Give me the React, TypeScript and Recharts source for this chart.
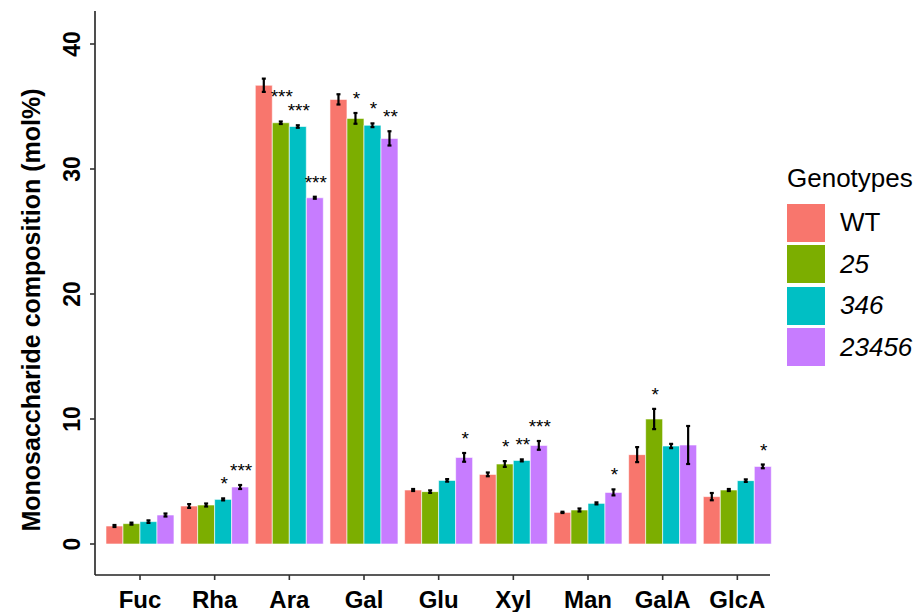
import React from 'react';
import { BarChart, Bar, XAxis, YAxis, ErrorBar, LabelList, Legend, Label } from 'recharts';

const categories = ['Fuc', 'Rha', 'Ara', 'Gal', 'Glu', 'Xyl', 'Man', 'GalA', 'GlcA'];
const genotypeLabels = ['WT', '25', '346', '23456'];
const colors = ['#F8766D', '#7CAE00', '#00BFC4', '#C77CFF'];

const wtMean = [1.44, 3.04, 36.7, 35.57, 4.32, 5.57, 2.53, 7.15, 3.79];
const wtErr = [0.08, 0.15, 0.53, 0.41, 0.08, 0.15, 0.05, 0.6, 0.29];
const wtSig = ['', '', '', '', '', '', '', '', ''];

const g25Mean = [1.63, 3.12, 33.7, 34.05, 4.19, 6.4, 2.72, 10.0, 4.32];
const g25Err = [0.08, 0.12, 0.1, 0.43, 0.1, 0.23, 0.12, 0.81, 0.08];
const g25Sig = ['', '', '***', '*', '', '*', '', '*', ''];

const g346Mean = [1.79, 3.57, 33.4, 33.5, 5.09, 6.69, 3.25, 7.84, 5.07];
const g346Err = [0.1, 0.08, 0.1, 0.15, 0.1, 0.08, 0.08, 0.17, 0.1];
const g346Sig = ['', '*', '***', '*', '', '**', '', '', ''];

const g23456Mean = [2.32, 4.56, 27.7, 32.45, 6.93, 7.89, 4.13, 7.92, 6.21];
const g23456Err = [0.12, 0.16, 0.08, 0.57, 0.35, 0.35, 0.24, 1.52, 0.15];
const g23456Sig = ['', '***', '***', '**', '*', '***', '*', '', '*'];

const yTicks = [0, 10, 20, 30, 40];
const yTitle = 'Monosaccharide composition (mol%)';
const legendTitle = 'Genotypes';

const data = categories.map((c, i) => ({
  cat: c,
  WT: wtMean[i], WT_err: wtErr[i],
  g25: g25Mean[i], g25_err: g25Err[i],
  g346: g346Mean[i], g346_err: g346Err[i],
  g23456: g23456Mean[i], g23456_err: g23456Err[i],
}));

const series = [
  { key: 'WT', mean: wtMean, err: wtErr, sig: wtSig },
  { key: 'g25', mean: g25Mean, err: g25Err, sig: g25Sig },
  { key: 'g346', mean: g346Mean, err: g346Err, sig: g346Sig },
  { key: 'g23456', mean: g23456Mean, err: g23456Err, sig: g23456Sig },
];

const FONT = '"Liberation Sans", Arial, Helvetica, sans-serif';
const STAR_GAP = 8;

const makeStar = (si: number) => (props: any) => {
  const { x, y, width, height, value, index } = props;
  const s = series[si];
  const sig = s.sig[index];
  if (!sig) return null;
  const ppu = Number(height) / Number(value);
  const base = Number(y) + Number(height);
  const top = base - (s.mean[index] + s.err[index]) * ppu;
  let ty = top - STAR_GAP;
  const nx = series[si + 1];
  if (nx && nx.sig[index]) {
    const nTop = base - (nx.mean[index] + nx.err[index]) * ppu;
    if (top <= nTop && nTop - top < 6) {
      ty = nTop - STAR_GAP - 14;
    }
  }
  return (
    <text key={`s-${index}`} x={Number(x) + Number(width) / 2 + 1} y={ty} textAnchor="middle"
      fontSize={19} fontFamily={FONT} fill="#000">{sig}</text>
  );
};

const XTick = (props: any) => {
  const { x, y, payload } = props;
  return (
    <text x={x} y={y + 26} textAnchor="middle" fontSize={24} fontWeight="bold" fontFamily={FONT} fill="#000">
      {payload.value}
    </text>
  );
};

const YTick = (props: any) => {
  const { x, y, payload } = props;
  const tx = x - 8;
  return (
    <text x={tx} y={y} transform={`rotate(-90 ${tx} ${y})`} textAnchor="middle" fontSize={23}
      fontWeight="bold" fontFamily={FONT} fill="#000">
      {payload.value}
    </text>
  );
};

const renderTitle = (props: any) => {
  const vb = props.viewBox || {};
  const cx = 40;
  const cy = (vb.y ?? 11) + (vb.height ?? 564) / 2 + 17;
  return (
    <text x={cx} y={cy} transform={`rotate(-90 ${cx} ${cy})`} textAnchor="middle" fontSize={25}
      fontWeight="bold" fontFamily={FONT} fill="#000">{yTitle}</text>
  );
};

const renderLegend = () => (
  <div style={{ fontFamily: FONT, color: '#000', textAlign: 'left' }}>
    <div style={{ fontSize: 26, lineHeight: '30px', height: 30, marginBottom: 9 }}>{legendTitle}</div>
    {genotypeLabels.map((g, i) => (
      <div key={g} style={{ display: 'flex', alignItems: 'center', height: 41.5 }}>
        <div style={{ width: 38, height: 38, background: colors[i] }} />
        <span style={{ marginLeft: 15, fontSize: 26, fontStyle: i === 0 ? 'normal' : 'italic' }}>{g}</span>
      </div>
    ))}
  </div>
);

export default function App() {
  return (
    <div style={{ position: 'absolute', left: 0, top: 0, width: 924, height: 612, background: '#fff' }}>
      <BarChart width={924} height={612} data={data}
        margin={{ top: 11, right: 154, bottom: 0, left: 0 }}
        barCategoryGap={3.3} barGap={0}>
        <XAxis dataKey="cat" height={37} padding={{ left: 7.67, right: -4.67 }}
          axisLine={{ stroke: '#222', strokeWidth: 1.6 }} tickLine={{ stroke: '#333', strokeWidth: 1.6 }}
          tickSize={5} tick={<XTick />} interval={0} />
        <YAxis type="number" width={95} domain={[-2.48, 42.64]} ticks={yTicks} allowDataOverflow
          axisLine={{ stroke: '#222', strokeWidth: 1.6 }} tickLine={{ stroke: '#333', strokeWidth: 1.6 }}
          tickSize={5} tick={<YTick />}>
          <Label content={renderTitle} />
        </YAxis>
        <Legend layout="horizontal" verticalAlign="middle" align="center" content={renderLegend}
          wrapperStyle={{ position: 'absolute', left: 787, top: 163, width: 137, height: 205 }} />
        {series.map((s, i) => (
          <Bar key={s.key} dataKey={s.key} fill={colors[i]} stroke="#ffffff" strokeWidth={0.6}
            isAnimationActive={false}>
            <ErrorBar dataKey={`${s.key}_err`} width={2} strokeWidth={2.2} stroke="#000" direction="y" />
            <LabelList dataKey={s.key} content={makeStar(i)} />
          </Bar>
        ))}
      </BarChart>
    </div>
  );
}
